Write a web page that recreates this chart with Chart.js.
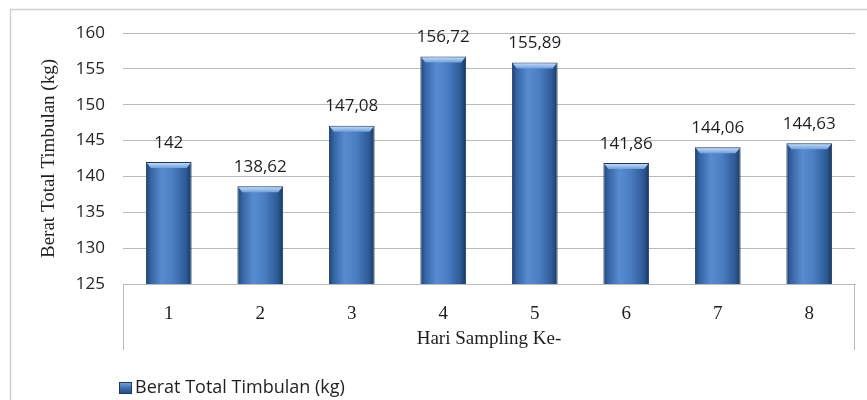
<!DOCTYPE html>
<html><head><meta charset="utf-8">
<script src="https://cdn.jsdelivr.net/npm/chart.js@4/dist/chart.umd.min.js"></script>
<style>html,body{margin:0;padding:0;background:#fff;}#wrap{width:867px;height:400px;position:relative;}</style>
</head><body><div id="wrap"><canvas id="c" width="867" height="400"></canvas></div>
<script>
const categories = ['1', '2', '3', '4', '5', '6', '7', '8'];
const timbulan = [142, 138.62, 147.08, 156.72, 155.89, 141.86, 144.06, 144.63];
const yTicks = [125, 130, 135, 140, 145, 150, 155, 160];
const seriesName = 'Berat Total Timbulan (kg)';
const yTitle = 'Berat Total Timbulan (kg)';
const xTitle = 'Hari Sampling Ke-';

const SANS = '"Open Sans", "Liberation Sans", sans-serif';
const SERIF = '"Liberation Serif", "DejaVu Serif", serif';
const fmt = v => String(v).replace('.', ',');

function barGradient(ctx) {
  const chart = ctx.chart, xs = chart.scales.x;
  if (!xs || !chart.chartArea || ctx.dataIndex === undefined) return '#4a7cc0';
  const cx = xs.getPixelForValue(ctx.dataIndex);
  const w = xs.width / categories.length * 0.5;
  const g = chart.ctx.createLinearGradient(cx - w / 2, 0, cx + w / 2, 0);
  g.addColorStop(0, '#1f406f');
  g.addColorStop(0.1, '#3463a3');
  g.addColorStop(0.35, '#588cd0');
  g.addColorStop(0.6, '#4a7dc1');
  g.addColorStop(0.88, '#2d5a96');
  g.addColorStop(1, '#1a355e');
  return g;
}

const framePlugin = {
  id: 'frame',
  beforeDraw(chart) {
    const c = chart.ctx;
    c.save();
    c.fillStyle = '#fff';
    c.fillRect(0, 0, chart.width, chart.height);
    c.strokeStyle = '#d0d0d0';
    c.lineWidth = 1.5;
    c.beginPath();
    c.moveTo(10.5, chart.height);
    c.lineTo(10.5, 9.5);
    c.lineTo(chart.width, 9.5);
    c.stroke();
    c.restore();
  },
  afterDraw(chart) {
    const c = chart.ctx, a = chart.chartArea;
    c.save();
    c.strokeStyle = '#bababa';
    c.lineWidth = 1;
    c.beginPath();
    c.moveTo(Math.round(a.left) + 0.5, a.bottom);
    c.lineTo(Math.round(a.left) + 0.5, a.bottom + 66);
    c.moveTo(Math.round(a.right) - 0.5, a.bottom);
    c.lineTo(Math.round(a.right) - 0.5, a.bottom + 66);
    c.stroke();
    // legend
    const lx = a.left - 4, ly = 388;
    const lg = c.createLinearGradient(lx, ly - 6, lx, ly + 6);
    lg.addColorStop(0, '#7fa8dc');
    lg.addColorStop(0.5, '#3f6fb0');
    lg.addColorStop(1, '#24467a');
    c.fillStyle = lg;
    c.fillRect(lx, ly - 6, 13, 12);
    c.strokeStyle = '#1d3960';
    c.strokeRect(lx + 0.5, ly - 5.5, 12, 11);
    c.fillStyle = '#1e1e1e';
    c.font = '18px ' + SANS;
    c.textAlign = 'left';
    c.textBaseline = 'middle';
    c.fillText(seriesName, lx + 16, ly);
    c.restore();
  }
};

const valuePlugin = {
  id: 'values',
  afterDatasetsDraw(chart) {
    const c = chart.ctx;
    const meta = chart.getDatasetMeta(0);
    c.save();
    meta.data.forEach((el) => {
      const w = el.width, x0 = el.x - w / 2, x1 = el.x + w / 2, t = el.y;
      const bg = c.createLinearGradient(0, t, 0, t + 6);
      bg.addColorStop(0, '#cfe2f8');
      bg.addColorStop(1, '#6f9fdc');
      c.fillStyle = bg;
      c.beginPath();
      c.moveTo(x0 + 1, t + 1);
      c.lineTo(x1 - 1, t + 1);
      c.lineTo(x1 - 5, t + 6);
      c.lineTo(x0 + 5, t + 6);
      c.closePath();
      c.fill();
    });
    c.font = '17px ' + SANS;
    c.fillStyle = '#1e1e1e';
    c.textAlign = 'center';
    c.textBaseline = 'middle';
    meta.data.forEach((el, i) => {
      c.fillText(fmt(timbulan[i]), el.x, el.y - 19);
    });
    c.restore();
  }
};

new Chart(document.getElementById('c'), {
  type: 'bar',
  data: {
    labels: categories,
    datasets: [{
      label: seriesName,
      data: timbulan,
      backgroundColor: barGradient,
      borderColor: '#1d3960',
      borderWidth: 1,
      categoryPercentage: 1,
      barPercentage: 0.5
    }]
  },
  options: {
    responsive: false,
    animation: false,
    events: [],
    layout: { padding: { left: 11, right: 12, top: 33, bottom: 36 } },
    plugins: { legend: { display: false }, tooltip: { enabled: false } },
    scales: {
      x: {
        grid: { display: false },
        border: { display: true, color: '#bababa' },
        ticks: { padding: 11, color: '#1e1e1e', font: { family: SERIF, size: 19 } },
        title: { display: true, text: xTitle, color: '#1e1e1e', font: { family: SERIF, size: 19 }, padding: { top: 0, bottom: 14 } },
        afterFit(s) { s.height = 80; }
      },
      y: {
        min: 125, max: 160,
        grid: { color: '#bababa', drawTicks: false },
        border: { display: false },
        afterBuildTicks(s) { s.ticks = yTicks.map(v => ({ value: v })); },
        ticks: { padding: 18, color: '#262626', font: { family: SANS, size: 17 } },
        title: { display: true, text: yTitle, color: '#1e1e1e', font: { family: SERIF, size: 19 }, padding: { top: 27, bottom: 0 } },
        afterFit(s) { s.width = 112; }
      }
    }
  },
  plugins: [framePlugin, valuePlugin]
});
</script></body></html>
